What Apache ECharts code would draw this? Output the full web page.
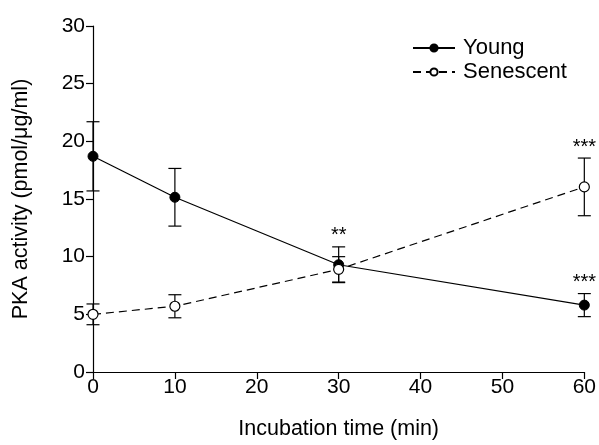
<html>
    <head>
        <meta charset="utf-8">
        <title>PKA activity</title>
        <script type="text/javascript" src="https://cdn.jsdelivr.net/npm/echarts@6/dist/echarts.min.js"></script>
        <style>
            body { margin: 0; background: #fff; }
            #main { width: 599px; height: 445px; }
        </style>
    </head>
    <body>
        <div id="main"></div>
        <script>
            // data
            var times = [0, 10, 30, 60];
            var young = [18.7, 15.15, 9.3, 5.8];
            var youngErr = [3.0, 2.5, 1.55, 1.0];
            var senescent = [5.0, 5.7, 8.9, 16.05];
            var senescentErr = [0.9, 1.0, 1.1, 2.5];
            var stars = [[30, 10.85, '**'], [60, 18.55, '***'], [60, 6.8, '***']];
            var yTicks = [0, 5, 10, 15, 20, 25, 30];

            var font = 'Liberation Sans, Arial, sans-serif';

            function pairs(xs, ys) {
                return xs.map(function (x, i) { return [x, ys[i]]; });
            }
            function errData(xs, ys, es) {
                return xs.map(function (x, i) { return [x, ys[i] - es[i], ys[i] + es[i]]; });
            }
            function errRender(params, api) {
                var lo = api.coord([api.value(0), api.value(1)]);
                var hi = api.coord([api.value(0), api.value(2)]);
                var w = 6.5;
                var st = { stroke: '#000', lineWidth: 1.2 };
                return {
                    type: 'group',
                    children: [
                        { type: 'line', shape: { x1: lo[0], y1: lo[1], x2: hi[0], y2: hi[1] }, style: st },
                        { type: 'line', shape: { x1: lo[0] - w, y1: lo[1], x2: lo[0] + w, y2: lo[1] }, style: st },
                        { type: 'line', shape: { x1: hi[0] - w, y1: hi[1], x2: hi[0] + w, y2: hi[1] }, style: st }
                    ]
                };
            }

            var chart = echarts.init(document.getElementById('main'));
            var option = {
                animation: false,
                backgroundColor: '#fff',
                textStyle: { fontFamily: font },
                grid: { left: 93, right: 14, top: 26, bottom: 67, containLabel: false },
                legend: {
                    left: 407,
                    top: 32,
                    orient: 'vertical',
                    itemWidth: 42,
                    itemHeight: 9,
                    itemGap: 2,
                    textStyle: { fontFamily: font, fontSize: 22, color: '#000', padding: [0, 0, 0, 3] },
                    data: ['Young', 'Senescent']
                },
                xAxis: {
                    type: 'value',
                    min: 0, max: 60, interval: 10,
                    axisLine: { lineStyle: { color: '#000', width: 1.2 } },
                    axisTick: { lineStyle: { color: '#000', width: 1.2 }, length: 7 },
                    axisLabel: { color: '#000', fontSize: 21, fontFamily: font, margin: 5 },
                    splitLine: { show: false },
                    name: 'Incubation time (min)',
                    nameLocation: 'middle',
                    nameGap: 46,
                    nameTextStyle: { color: '#000', fontSize: 21.5, fontFamily: font }
                },
                yAxis: {
                    type: 'value',
                    min: yTicks[0], max: yTicks[yTicks.length - 1], interval: 5,
                    axisLine: { show: true, lineStyle: { color: '#000', width: 1.2 } },
                    axisTick: { show: true, lineStyle: { color: '#000', width: 1.2 }, length: 7 },
                    axisLabel: { color: '#000', fontSize: 21, fontFamily: font, margin: 8 },
                    splitLine: { show: false },
                    name: 'PKA activity (pmol/\u03bcg/ml)',
                    nameLocation: 'middle',
                    nameGap: 61,
                    nameTextStyle: { color: '#000', fontSize: 21.5, fontFamily: font }
                },
                series: [
                    {
                        type: 'custom',
                        renderItem: errRender,
                        data: errData(times, young, youngErr),
                        z: 1
                    },
                    {
                        type: 'custom',
                        renderItem: errRender,
                        data: errData(times, senescent, senescentErr),
                        z: 1
                    },
                    {
                        name: 'Young',
                        type: 'line',
                        data: pairs(times, young),
                        symbol: 'circle',
                        symbolSize: 10,
                        lineStyle: { color: '#000', width: 1.2 },
                        itemStyle: { color: '#000', borderColor: '#000', borderWidth: 1 },
                        z: 3
                    },
                    {
                        name: 'Senescent',
                        type: 'line',
                        data: pairs(times, senescent),
                        symbol: 'circle',
                        symbolSize: 10,
                        lineStyle: { color: '#000', width: 1.2, type: [8, 5] },
                        itemStyle: { color: '#fff', borderColor: '#000', borderWidth: 1.2 },
                        z: 4
                    },
                    {
                        type: 'custom',
                        data: stars,
                        renderItem: function (params, api) {
                            var p = api.coord([api.value(0), api.value(1)]);
                            return {
                                type: 'text',
                                x: p[0], y: p[1] - 11,
                                style: {
                                    text: stars[params.dataIndex][2],
                                    fill: '#000',
                                    font: '20px ' + font,
                                    align: 'center',
                                    verticalAlign: 'middle'
                                }
                            };
                        },
                        z: 5
                    }
                ]
            };
            chart.setOption(option);
        </script>
    </body>
</html>
